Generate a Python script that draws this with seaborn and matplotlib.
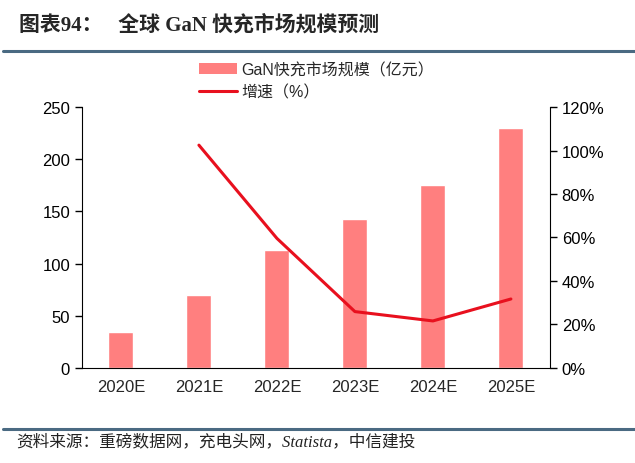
# 全球 GaN 快充市场规模预测
import numpy as np
import pandas as pd
import matplotlib
matplotlib.use('Agg')
import matplotlib.pyplot as plt
import seaborn as sns
from matplotlib.lines import Line2D
from matplotlib.patches import Patch

# Dados
anos = ['2020E', '2021E', '2022E', '2023E', '2024E', '2025E']
mercado = [34, 70, 113, 143, 175, 230]
crescimento = [np.nan, 102.5, 59.6, 25.9, 21.6, 31.7]

df = pd.DataFrame({'ano': anos, 'mercado': mercado, 'crescimento': crescimento})

sns.set_style('white')
plt.rcParams['font.family'] = ['Liberation Sans', 'Noto Sans CJK SC', 'DejaVu Sans']

cor_barra = '#FF7F7F'
cor_linha = '#E8101E'
cor_regua = '#4A6A82'

fig = plt.figure(figsize=(6.35, 4.64), dpi=100)
ax = fig.add_axes([0.129, 0.205, 0.737, 0.562])

sns.barplot(data=df, x='ano', y='mercado', color=cor_barra, width=0.32,
            saturation=1, ax=ax)
ax.set_ylim(0, 250)
ax.set_yticks(range(0, 251, 50))
ax.set_xlim(-0.5, 5.5)
ax.set_xlabel('')
ax.set_ylabel('')

ax2 = ax.twinx()
ax2.plot(range(len(anos)), df['crescimento'], color=cor_linha, lw=2.2)
ax2.set_ylim(0, 120)
ax2.set_yticks(range(0, 121, 20))
ax2.set_yticklabels([f'{v}%' for v in range(0, 121, 20)])
ax2.set_xlim(-0.5, 5.5)

# Eixos e ticks
for a in (ax, ax2):
    for s in a.spines.values():
        s.set_visible(False)
    a.tick_params(labelsize=12, colors='black', length=5, width=1)
ax.spines['left'].set_visible(True)
ax.spines['bottom'].set_visible(True)
ax2.spines['right'].set_visible(True)
for s in ('left', 'bottom'):
    ax.spines[s].set_color('black')
ax2.spines['right'].set_color('black')
ax.set_xticks(np.arange(-0.5, 6, 1))
ax.set_xticklabels([])
ax.set_xticks(range(len(anos)), minor=True)
ax.set_xticklabels(anos, minor=True)
ax.tick_params(axis='x', which='major', direction='out', length=6)
ax.tick_params(axis='x', which='minor', length=0, pad=8, labelsize=12)
ax.tick_params(axis='y', direction='out')
ax2.tick_params(axis='y', direction='out')

# Legenda
handles = [Patch(facecolor=cor_barra, edgecolor='none'),
           Line2D([0], [0], color=cor_linha, lw=2.2)]
fig.legend(handles, ['GaN快充市场规模（亿元）', '增速（%）'],
           loc='upper left', bbox_to_anchor=(0.29, 0.895), frameon=False,
           fontsize=11.5, handlelength=2.4, handletextpad=0.3, labelspacing=0.45)

# Título e fonte
fig.text(0.03, 0.945, '图表94：   全球 GaN 快充市场规模预测', fontsize=15,
         fontweight='bold', va='center',
         family=['Liberation Serif', 'Noto Sans CJK SC'])
fig.add_artist(Line2D([0.005, 1.0], [0.888, 0.888], color=cor_regua, lw=2.2,
                      transform=fig.transFigure))
fig.add_artist(Line2D([0.005, 1.0], [1 - 430 / 464, 1 - 430 / 464],
                      color=cor_regua, lw=2.2, transform=fig.transFigure))
fig.text(0.025, 1 - 442 / 464, '资料来源：重磅数据网，充电头网，Statista，中信建投',
         fontsize=12, style='italic', va='center', color='#222222',
         family=['Liberation Serif', 'Noto Sans CJK SC'])

plt.savefig('out.png', dpi=100)
plt.close()
